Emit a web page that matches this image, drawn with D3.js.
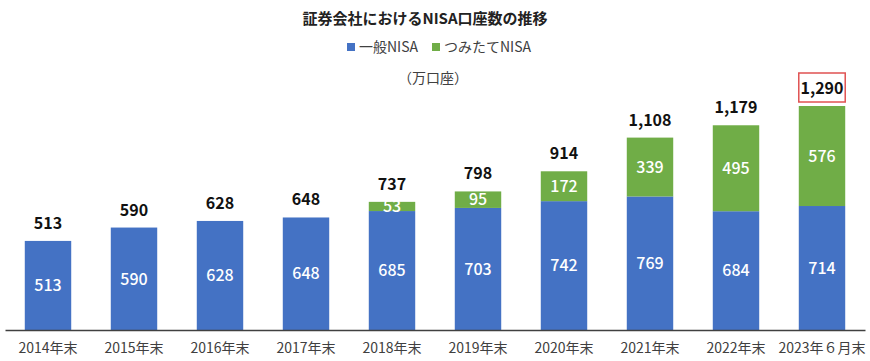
<!DOCTYPE html>
<html>
<head>
<meta charset="utf-8">
<script src="https://cdn.jsdelivr.net/npm/d3@7"></script>
<style>
  body { margin: 0; background: #fff; }
  svg { display: block; font-family: "Noto Sans CJK JP", "Noto Sans", sans-serif; }
</style>
</head>
<body>
<div id="chart"></div>
<script>
const categories = ["2014年末", "2015年末", "2016年末", "2017年末", "2018年末",
  "2019年末", "2020年末", "2021年末", "2022年末", "2023年６月末"];
const ippan = [513, 590, 628, 648, 685, 703, 742, 769, 684, 714];
const tsumitate = [0, 0, 0, 0, 53, 95, 172, 339, 495, 576];
const totals = [513, 590, 628, 648, 737, 798, 914, 1108, 1179, 1290];
const seriesNames = ["一般NISA", "つみたてNISA"];
const colors = ["#4472C4", "#70AD47"];

const width = 870, height = 361;
const svg = d3.select("#chart").append("svg")
  .attr("width", width)
  .attr("height", height);

const data = categories.map((c, i) => ({ cat: c, ippan: ippan[i], tsumitate: tsumitate[i], total: totals[i] }));

const x = d3.scaleBand()
  .domain(categories)
  .range([5, 865])
  .paddingInner(0.46)
  .paddingOuter(0.23);

const y = d3.scaleLinear()
  .domain([0, 1290])
  .range([330, 106]);

const stack = d3.stack().keys(["ippan", "tsumitate"]);
const layers = stack(data);

// bars
svg.append("g")
  .selectAll("g")
  .data(layers)
  .join("g")
    .attr("fill", (d, i) => colors[i])
  .selectAll("rect")
  .data(d => d.filter(s => s[1] > s[0]))
  .join("rect")
    .attr("x", d => x(d.data.cat))
    .attr("y", d => y(d[1]))
    .attr("width", x.bandwidth())
    .attr("height", d => y(d[0]) - y(d[1]));

// segment labels
svg.append("g")
  .selectAll("g")
  .data(layers)
  .join("g")
  .selectAll("text")
  .data(d => d.filter(s => s[1] > s[0]))
  .join("text")
    .attr("x", d => x(d.data.cat) + x.bandwidth() / 2)
    .attr("y", d => (y(d[0]) + y(d[1])) / 2)
    .attr("dy", "0.36em")
    .attr("text-anchor", "middle")
    .attr("fill", "#fff")
    .attr("font-size", 16)
    .attr("font-weight", 500)
    .text(d => d[1] - d[0]);

// totals
svg.append("g")
  .selectAll("text")
  .data(data)
  .join("text")
    .attr("x", d => x(d.cat) + x.bandwidth() / 2)
    .attr("y", d => y(d.total) - 12)
    .attr("text-anchor", "middle")
    .attr("fill", "#111")
    .attr("font-size", 16)
    .attr("font-weight", "bold")
    .text(d => d3.format(",")(d.total));

// highlight box around latest total
const last = data[data.length - 1];
svg.append("rect")
  .attr("x", x(last.cat))
  .attr("y", y(last.total) - 33)
  .attr("width", x.bandwidth())
  .attr("height", 29)
  .attr("fill", "none")
  .attr("stroke", "#E05252")
  .attr("stroke-width", 1.5);

// x axis
const xAxis = svg.append("g")
  .attr("transform", "translate(0,330)")
  .call(d3.axisBottom(x).tickSize(0).tickPadding(13));
xAxis.select(".domain").attr("stroke", "#404040").attr("stroke-width", 1.5);
xAxis.selectAll("text")
  .attr("fill", "#404040")
  .attr("font-size", 14)
  .attr("font-family", "'Noto Sans CJK JP', sans-serif");

// title
svg.append("text")
  .attr("x", 425).attr("y", 24)
  .attr("text-anchor", "middle")
  .attr("font-size", 15)
  .attr("font-weight", "bold")
  .attr("fill", "#222")
  .text("証券会社におけるNISA口座数の推移");

// legend
const legend = svg.append("g").attr("transform", "translate(0,47)");
const legendX = [347, 432];
seriesNames.forEach((name, i) => {
  const g = legend.append("g").attr("transform", `translate(${legendX[i]},0)`);
  g.append("rect").attr("x", 0).attr("y", -4).attr("width", 8).attr("height", 8).attr("fill", colors[i]);
  g.append("text").attr("x", 12).attr("dy", "0.36em")
    .attr("font-size", 14).attr("fill", "#404040").text(name);
});

// unit
svg.append("text")
  .attr("x", 433).attr("y", 83)
  .attr("text-anchor", "middle")
  .attr("font-size", 14)
  .attr("fill", "#404040")
  .text("（万口座）");
</script>
</body>
</html>
